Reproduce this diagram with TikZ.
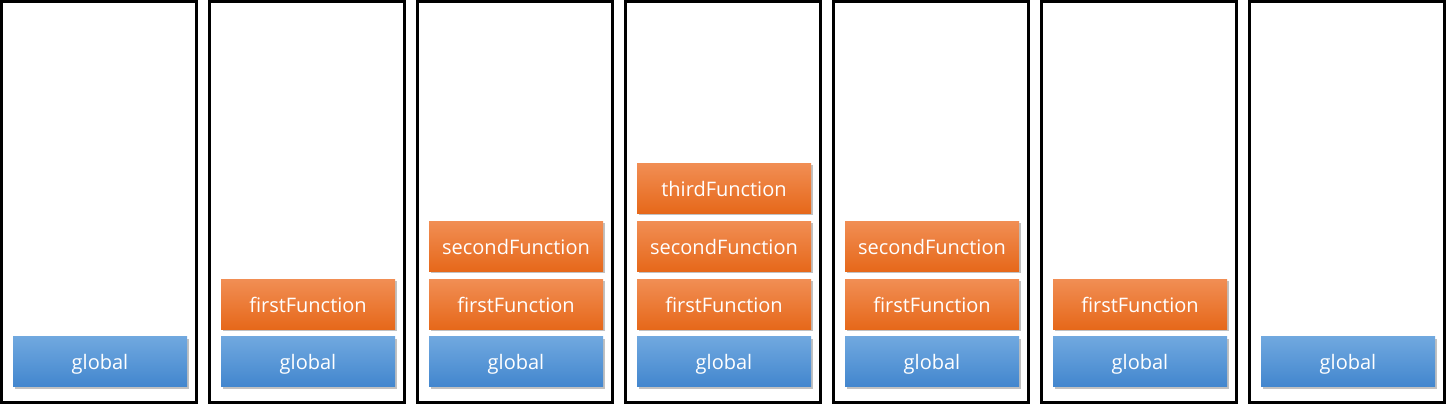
\documentclass[tikz,border=0pt]{standalone}
\usepackage{fontspec}
\setmainfont{Open Sans}
\usetikzlibrary{positioning,shadows}

% colours of the call boxes
\definecolor{globaltop}{RGB}{112,168,223}
\definecolor{globalbot}{RGB}{66,134,206}
\definecolor{functop}{RGB}{241,142,84}
\definecolor{funcbot}{RGB}{230,104,26}

\tikzset{
  stackframe/.style={draw=black, line width=3pt},
  callbox/.style={minimum width=174pt, minimum height=50pt, inner sep=0pt,
    text height=18pt, text depth=2pt,
    text=white, font=\fontsize{20}{22}\selectfont,
    drop shadow={shadow xshift=1.5pt, shadow yshift=-2pt, opacity=0.35, fill=black!70}},
  globalbox/.style={callbox, top color=globaltop, bottom color=globalbot},
  funcbox/.style={callbox, top color=functop, bottom color=funcbot},
}

\begin{document}
\begin{tikzpicture}[x=1pt, y=1pt, node distance=7.5pt]
  \useasboundingbox (0,0) rectangle (1446,404);

  % Pile (una cornice per ogni passo)
  \foreach \i in {0,...,6}
    \draw[stackframe] ({1.5+208*\i},1.5) rectangle ({196.5+208*\i},402.5);

  % Contesto globale
  \foreach \i in {1,...,7}
    \node[globalbox] (g\i) at ({100+208*(\i-1)},42) {global};

  % Chiamate di funzione
  \node[funcbox, above=of g2] (f2) {firstFunction};

  \node[funcbox, above=of g3] (f3) {firstFunction};
  \node[funcbox, above=of f3] (s3) {secondFunction};

  \node[funcbox, above=of g4] (f4) {firstFunction};
  \node[funcbox, above=of f4] (s4) {secondFunction};
  \node[funcbox, above=of s4] (t4) {thirdFunction};

  \node[funcbox, above=of g5] (f5) {firstFunction};
  \node[funcbox, above=of f5] (s5) {secondFunction};

  \node[funcbox, above=of g6] (f6) {firstFunction};
\end{tikzpicture}
\end{document}
